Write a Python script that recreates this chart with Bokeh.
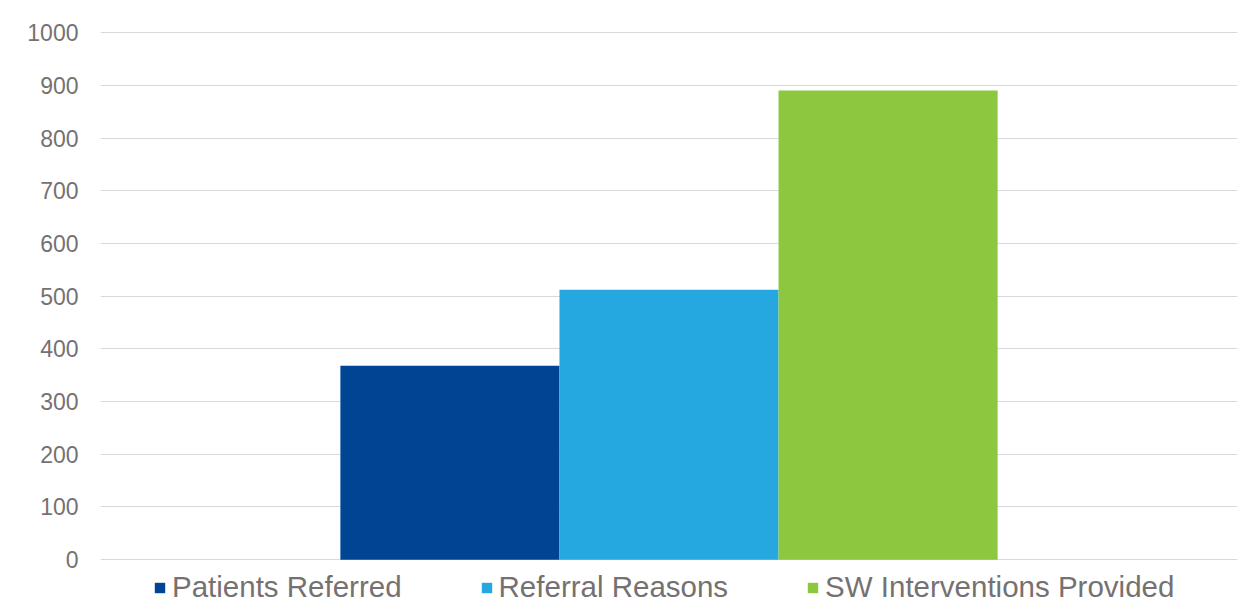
from bokeh.plotting import figure
from bokeh.models import ColumnDataSource, FactorRange, Range1d, Legend, LegendItem
from bokeh.embed import file_html
from bokeh.resources import INLINE

series = ["Patients Referred", "Referral Reasons", "SW Interventions Provided"]
values = [368, 512, 890]
colors = ["#004593", "#25a8e0", "#8dc63f"]
y_ticks = [0, 100, 200, 300, 400, 500, 600, 700, 800, 900, 1000]

src = ColumnDataSource(data=dict(series=series, values=values, colors=colors))

# y range extends below 0 to leave room for the legend inside the plotting frame
p = figure(frame_width=1137, frame_height=574, output_backend="svg", toolbar_location=None,
           x_range=FactorRange(*series, range_padding=0.73),
           y_range=Range1d(-85, 1004), x_axis_location=None)
p.min_border_left = 100
p.min_border_right = 8
p.min_border_top = 30
p.min_border_bottom = 0
p.outline_line_color = None

r = p.vbar(x="series", top="values", width=1.0, fill_color="colors", line_color=None, source=src)

p.xgrid.grid_line_color = None
p.ygrid.grid_line_color = "#d9d9d9"
p.ygrid.grid_line_width = 1
p.yaxis.ticker = y_ticks
p.yaxis.axis_line_color = None
p.yaxis.major_tick_line_color = None
p.yaxis.minor_tick_line_color = None
p.yaxis.major_tick_in = 0
p.yaxis.major_tick_out = 0
p.yaxis.major_label_standoff = 22
p.yaxis.major_label_text_font = "Liberation Sans"
p.yaxis.major_label_text_font_size = "23px"
p.yaxis.major_label_text_color = "#767171"

items = [LegendItem(label=s, renderers=[r], index=i) for i, s in enumerate(series)]
legend = Legend(items=items, orientation="horizontal", location=(53, 0),
                glyph_width=13, glyph_height=13, label_standoff=6, spacing=78,
                label_text_font="Liberation Sans", label_text_font_size="29.5px",
                label_text_color="#767171", label_height=28,
                padding=0, margin=0, border_line_color=None, background_fill_alpha=0)
p.add_layout(legend, "center")

open("out.html", "w").write(file_html(p, INLINE))
